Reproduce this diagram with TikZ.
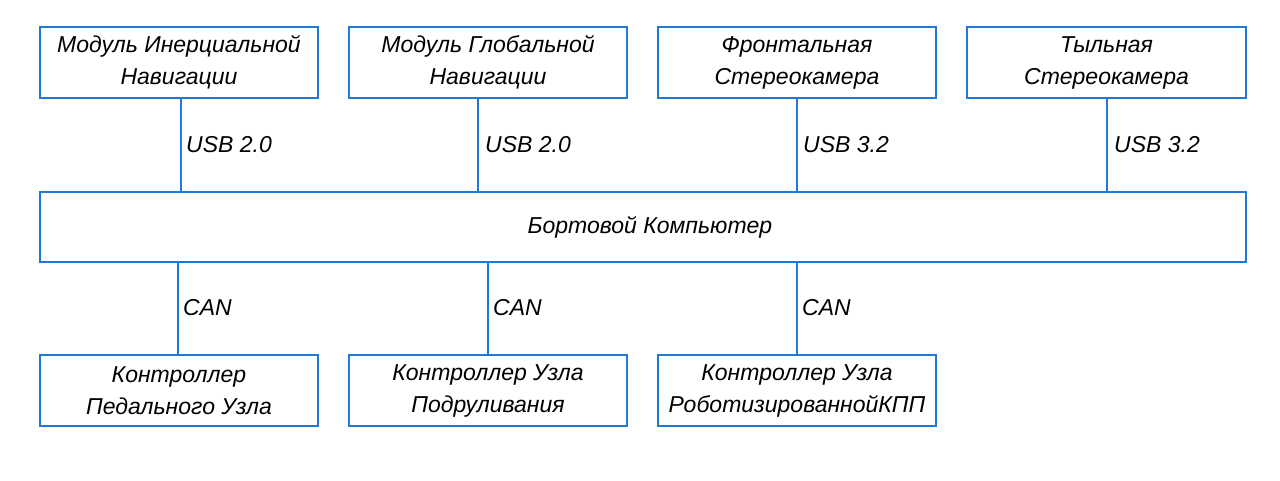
\documentclass[tikz,border=0pt]{standalone}
\usepackage{fontspec}
\setmainfont{Liberation Sans}
\definecolor{boxblue}{RGB}{30,122,214}
\begin{document}
\begin{tikzpicture}[x=1pt,y=-1pt,
  blk/.style={draw=boxblue,line width=2pt,inner sep=0pt,align=center,
    font=\fontsize{23}{32}\selectfont\itshape,text=black},
  lnk/.style={draw=boxblue,line width=2pt},
  lbl/.style={font=\fontsize{23}{28}\selectfont\itshape,anchor=west,inner sep=0pt}]
\useasboundingbox (0,0) rectangle (1280,481);
\node[blk,minimum width=278pt,minimum height=71pt] (t1) at (179,62.5) {Модуль Инерциальной\\Навигации};
\node[blk,minimum width=278pt,minimum height=71pt] (t2) at (488,62.5) {Модуль Глобальной\\Навигации};
\node[blk,minimum width=278pt,minimum height=71pt] (t3) at (797,62.5) {Фронтальная\\Стереокамера};
\node[blk,minimum width=279pt,minimum height=71pt] (t4) at (1106.5,62.5) {Тыльная\\Стереокамера};
\node[blk,minimum width=1206pt,minimum height=70pt] (pc) at (643,227) {};
\node[font=\fontsize{23}{28}\selectfont\itshape] at (650,227) {Бортовой Компьютер};
\node[blk,minimum width=278pt,minimum height=71pt] (b1) at (179,390.5) {Контроллер\\Педального Узла};
\node[blk,minimum width=278pt,minimum height=71pt] (b2) at (488,390.5) {Контроллер Узла\\Подруливания};
\node[blk,minimum width=278pt,minimum height=71pt] (b3) at (797,390.5) {Контроллер Узла\\РоботизированнойКПП};
\coordinate (x1) at (181,0); \coordinate (x2) at (478,0); \coordinate (x3) at (797,0); \coordinate (x4) at (1107,0);
\coordinate (y1) at (178,0); \coordinate (y2) at (488,0); \coordinate (y3) at (797,0);
\draw[lnk] (t1.south -| x1) -- (pc.north -| x1);
\draw[lnk] (t2.south -| x2) -- (pc.north -| x2);
\draw[lnk] (t3.south -| x3) -- (pc.north -| x3);
\draw[lnk] (t4.south -| x4) -- (pc.north -| x4);
\draw[lnk] (pc.south -| y1) -- (b1.north -| y1);
\draw[lnk] (pc.south -| y2) -- (b2.north -| y2);
\draw[lnk] (pc.south -| y3) -- (b3.north -| y3);
\node[lbl] at (186,145) {USB 2.0};
\node[lbl] at (485,145) {USB 2.0};
\node[lbl] at (803,145) {USB 3.2};
\node[lbl] at (1114,145) {USB 3.2};
\node[lbl] at (183,308) {CAN};
\node[lbl] at (493,308) {CAN};
\node[lbl] at (802,308) {CAN};
\end{tikzpicture}
\end{document}
